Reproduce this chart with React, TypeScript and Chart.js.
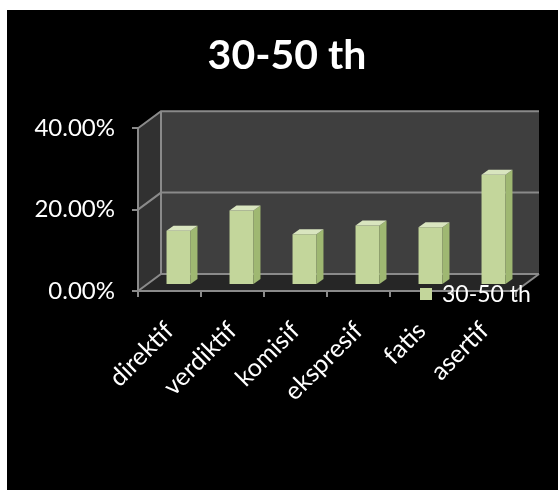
import React, { useEffect, useRef } from 'react';
import { Chart, registerables } from 'chart.js';

Chart.register(...registerables);

const chartTitle = '30-50 th';
const seriesName = '30-50 th';
const categories = ['direktif', 'verdiktif', 'komisif', 'ekspresif', 'fatis', 'asertif'];
const values = [13.3, 18.3, 12.5, 14.6, 14.2, 27.1];
const yMin = 0;
const yMax = 40;
const yStep = 20;

const FONT = 'Lato, "Open Sans", sans-serif';
const WALL_DEPTH = { dx: 23, dy: -17 };
const BAR_SHIFT = { dx: 9, dy: -6 };
const BAR_DEPTH = { dx: 7, dy: -5 };
const BAR_FRONT = '#c3d69b';
const BAR_SIDE = '#9fb872';
const BAR_TOP = '#d9e5bf';
const LINE = '#8a8a8a';

const wallsPlugin = {
  id: 'walls3d',
  beforeDraw(chart: any) {
    const { ctx, chartArea } = chart;
    const { left: L, right: R, top: T, bottom: B } = chartArea;
    const { dx, dy } = WALL_DEPTH;
    ctx.save();
    ctx.fillStyle = '#3f3f3f';
    ctx.fillRect(L + dx, T + dy, R - L, B - T);
    ctx.fillStyle = '#313131';
    ctx.beginPath();
    ctx.moveTo(L, T);
    ctx.lineTo(L + dx, T + dy);
    ctx.lineTo(L + dx, B + dy);
    ctx.lineTo(L, B);
    ctx.closePath();
    ctx.fill();
    ctx.fillStyle = '#262626';
    ctx.beginPath();
    ctx.moveTo(L, B);
    ctx.lineTo(L + dx, B + dy);
    ctx.lineTo(R + dx, B + dy);
    ctx.lineTo(R, B);
    ctx.closePath();
    ctx.fill();
    const yScale = chart.scales.y;
    ctx.strokeStyle = LINE;
    ctx.lineWidth = 2;
    yScale.ticks.forEach((t: any) => {
      const y = yScale.getPixelForValue(t.value);
      ctx.beginPath();
      ctx.moveTo(L, y);
      ctx.lineTo(L + dx, y + dy);
      ctx.lineTo(R + dx, y + dy);
      ctx.stroke();
    });
    ctx.beginPath();
    ctx.moveTo(L + dx, T + dy);
    ctx.lineTo(L + dx, B + dy);
    ctx.stroke();
    ctx.beginPath();
    ctx.moveTo(R + dx, B + dy);
    ctx.lineTo(R, B);
    ctx.stroke();
    ctx.restore();
  },
  beforeDatasetsDraw(chart: any) {
    chart.ctx.save();
    chart.ctx.translate(BAR_SHIFT.dx, BAR_SHIFT.dy);
  },
  afterDatasetsDraw(chart: any) {
    const { ctx } = chart;
    const meta = chart.getDatasetMeta(0);
    meta.data.forEach((bar: any) => {
      const { x, y, base, width } = bar.getProps(['x', 'y', 'base', 'width'], true);
      const l = x - width / 2;
      const r = x + width / 2;
      const { dx, dy } = BAR_DEPTH;
      ctx.fillStyle = BAR_SIDE;
      ctx.beginPath();
      ctx.moveTo(r, y);
      ctx.lineTo(r + dx, y + dy);
      ctx.lineTo(r + dx, base + dy);
      ctx.lineTo(r, base);
      ctx.closePath();
      ctx.fill();
      ctx.fillStyle = BAR_TOP;
      ctx.beginPath();
      ctx.moveTo(l, y);
      ctx.lineTo(l + dx, y + dy);
      ctx.lineTo(r + dx, y + dy);
      ctx.lineTo(r, y);
      ctx.closePath();
      ctx.fill();
    });
    ctx.restore();
  },
  afterDraw(chart: any) {
    const { ctx, chartArea } = chart;
    const { right: R, bottom: B } = chartArea;
    ctx.save();
    ctx.fillStyle = BAR_FRONT;
    ctx.fillRect(R - 96, B - 3, 12, 12);
    ctx.fillStyle = '#ffffff';
    ctx.font = `23px ${FONT}`;
    ctx.textAlign = 'left';
    ctx.textBaseline = 'middle';
    ctx.fillText(chart.data.datasets[0].label, R - 74, B + 4);
    ctx.restore();
  },
};

export default function App() {
  const ref = useRef<HTMLCanvasElement | null>(null);
  useEffect(() => {
    if (!ref.current) return;
    const chart = new Chart(ref.current, {
      type: 'bar',
      data: {
        labels: categories,
        datasets: [
          {
            label: seriesName,
            data: values,
            backgroundColor: BAR_FRONT,
            borderWidth: 0,
            barPercentage: 0.76,
            categoryPercentage: 0.5,
            clip: false as any,
          },
        ],
      },
      options: {
        animation: false,
        responsive: true,
        maintainAspectRatio: false,
        layout: { padding: 0 },
        plugins: {
          legend: { display: false },
          tooltip: { enabled: false },
          title: {
            display: true,
            text: chartTitle,
            color: '#ffffff',
            font: { family: FONT, size: 41, weight: 'bold' },
            padding: { top: 21, bottom: 48 },
          },
        },
        scales: {
          x: {
            offset: true,
            grid: {
              display: true,
              drawOnChartArea: false,
              offset: true,
              tickLength: 6,
              color: LINE,
              lineWidth: 2,
            },
            border: { display: true, color: LINE, width: 2 },
            ticks: {
              color: '#ffffff',
              font: { family: FONT, size: 25 },
              minRotation: 45,
              maxRotation: 45,
              autoSkip: false,
              padding: 19,
            },
            afterFit(scale: any) {
              scale.height = 199;
            },
          },
          y: {
            min: yMin,
            max: yMax,
            grid: {
              display: true,
              drawOnChartArea: false,
              tickLength: 6,
              color: LINE,
              lineWidth: 2,
            },
            border: { display: true, color: LINE, width: 2 },
            ticks: {
              stepSize: yStep,
              color: '#ffffff',
              font: { family: FONT, size: 24 },
              padding: 17,
              callback: (v: any) => Number(v).toFixed(2) + '%',
            },
            afterFit(scale: any) {
              scale.width = 131;
            },
          },
          ySpace: {
            position: 'right',
            display: true,
            min: yMin,
            max: yMax,
            grid: { display: false },
            border: { display: false },
            ticks: { display: false },
            afterFit(scale: any) {
              scale.width = 51;
            },
          },
        },
      },
      plugins: [wallsPlugin],
    });
    return () => chart.destroy();
  }, []);

  return (
    <div
      style={{
        position: 'fixed',
        left: 7,
        top: 10,
        width: 551,
        height: 480,
        background: '#000000',
        overflow: 'hidden',
      }}
    >
      <div style={{ position: 'relative', width: 560, height: 480 }}>
        <canvas ref={ref} />
      </div>
    </div>
  );
}
